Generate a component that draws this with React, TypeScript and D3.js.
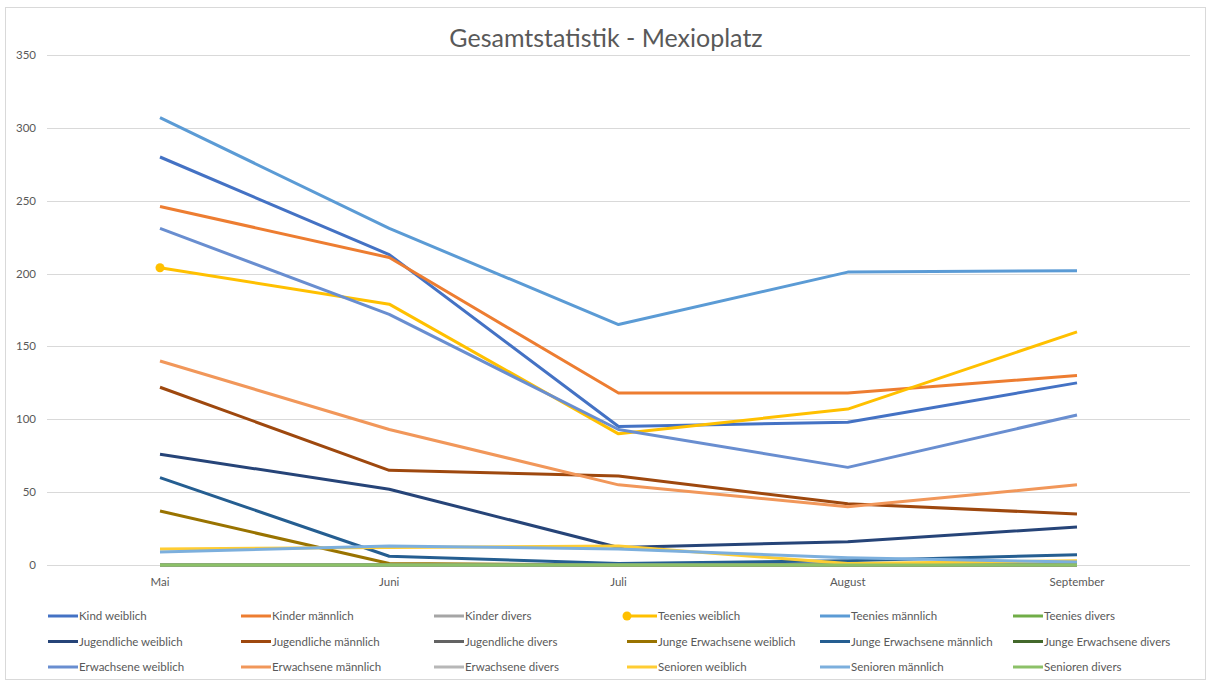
import React, { useEffect, useRef } from 'react';
import * as d3 from 'd3';

const months = ['Mai', 'Juni', 'Juli', 'August', 'September'];
const yTicks = [0, 50, 100, 150, 200, 250, 300, 350];

const seriesNames = [
  'Kind weiblich', 'Kinder männlich', 'Kinder divers',
  'Teenies weiblich', 'Teenies männlich', 'Teenies divers',
  'Jugendliche weiblich', 'Jugendliche männlich', 'Jugendliche divers',
  'Junge Erwachsene weiblich', 'Junge Erwachsene männlich', 'Junge Erwachsene divers',
  'Erwachsene weiblich', 'Erwachsene männlich', 'Erwachsene divers',
  'Senioren weiblich', 'Senioren männlich', 'Senioren divers',
];

const kindW = [280, 213, 95, 98, 125];
const kinderM = [246, 211, 118, 118, 130];
const kinderD = [0, 0, 0, 0, 0];
const teeniesW = [204, 179, 90, 107, 160];
const teeniesM = [307, 231, 165, 201, 202];
const teeniesD = [0, 0, 0, 0, 0];
const jugendW = [76, 52, 12, 16, 26];
const jugendM = [122, 65, 61, 42, 35];
const jugendD = [0, 0, 0, 0, 0];
const jungeW = [37, 1, 0, 0, 0];
const jungeM = [60, 6, 1, 3, 7];
const jungeD = [0, 0, 0, 0, 0];
const erwW = [231, 172, 93, 67, 103];
const erwM = [140, 93, 55, 40, 55];
const erwD = [0, 0, 0, 0, 0];
const seniorW = [11, 12, 13, 1, 3];
const seniorM = [9, 13, 11, 5, 2];
const seniorD = [0, 0, 0, 0, 0];

const seriesValues = [
  kindW, kinderM, kinderD, teeniesW, teeniesM, teeniesD,
  jugendW, jugendM, jugendD, jungeW, jungeM, jungeD,
  erwW, erwM, erwD, seniorW, seniorM, seniorD,
];

const colors = [
  '#4472C4', '#ED7D31', '#A5A5A5', '#FFC000', '#5B9BD5', '#70AD47',
  '#264478', '#9E480E', '#636363', '#997300', '#255E91', '#43682B',
  '#698ED0', '#F1975A', '#B7B7B7', '#FFCD33', '#7CAFDD', '#8CC168',
];

const W = 1207;
const H = 682;
const font = 'Lato, "Open Sans", sans-serif';

const App = () => {
  const svgRef = useRef<SVGSVGElement>(null);

  useEffect(() => {
    const svg = d3.select(svgRef.current);
    svg.selectAll('*').remove();

    svg.append('rect')
      .attr('x', 5.5).attr('y', 7.5).attr('width', 1200).attr('height', 672)
      .attr('fill', '#fff').attr('stroke', '#d9d9d9');

    svg.append('text')
      .attr('x', 606).attr('y', 47)
      .attr('text-anchor', 'middle')
      .attr('font-family', font).attr('font-size', 25)
      .attr('fill', '#595959')
      .text('Gesamtstatistik - Mexioplatz');

    const x = d3.scalePoint().domain(months).range([160, 1077]);
    const y = d3.scaleLinear().domain([0, 350]).range([565, 55]);

    // grid
    svg.append('g').selectAll('line').data(yTicks).join('line')
      .attr('x1', 47).attr('x2', 1190)
      .attr('y1', d => Math.round(y(d)) + 0.5).attr('y2', d => Math.round(y(d)) + 0.5)
      .attr('stroke', '#d9d9d9').attr('stroke-width', 1);

    svg.append('g').selectAll('text').data(yTicks).join('text')
      .attr('x', 36).attr('y', d => y(d) + 4)
      .attr('text-anchor', 'end')
      .attr('font-family', font).attr('font-size', 11.5).attr('fill', '#595959')
      .text(d => d);

    svg.append('g').selectAll('text').data(months).join('text')
      .attr('x', d => x(d)!).attr('y', 586)
      .attr('text-anchor', 'middle')
      .attr('font-family', font).attr('font-size', 11.5).attr('fill', '#595959')
      .text(d => d);

    const line = d3.line<number>()
      .x((_, i) => x(months[i])!)
      .y(d => y(d));

    const order = seriesValues.map((_, i) => i);
    svg.append('g').selectAll('path').data(order).join('path')
      .attr('d', i => line(seriesValues[i]))
      .attr('fill', 'none')
      .attr('stroke', i => colors[i])
      .attr('stroke-width', 3)
      .attr('stroke-linejoin', 'round');

    // single marker on Teenies weiblich
    svg.append('circle')
      .attr('cx', x(months[0])!).attr('cy', y(teeniesW[0]))
      .attr('r', 4.5).attr('fill', colors[3]);

    // legend
    const leg = svg.append('g');
    seriesNames.forEach((name, i) => {
      const col = i % 6;
      const row = Math.floor(i / 6);
      const lx = 48 + col * 193;
      const ly = 616 + row * 25.5;
      leg.append('line')
        .attr('x1', lx).attr('x2', lx + 30).attr('y1', ly).attr('y2', ly)
        .attr('stroke', colors[i]).attr('stroke-width', 3);
      if (i === 3) {
        leg.append('circle').attr('cx', lx).attr('cy', ly).attr('r', 4.5).attr('fill', colors[i]);
      }
      leg.append('text')
        .attr('x', lx + 31).attr('y', ly + 4)
        .attr('font-family', font).attr('font-size', 11.5).attr('fill', '#595959')
        .text(name);
    });
  }, []);

  return (
    <svg ref={svgRef} width={W} height={H} style={{ position: 'absolute', left: 0, top: 0 }}></svg>
  );
};

export default App;
